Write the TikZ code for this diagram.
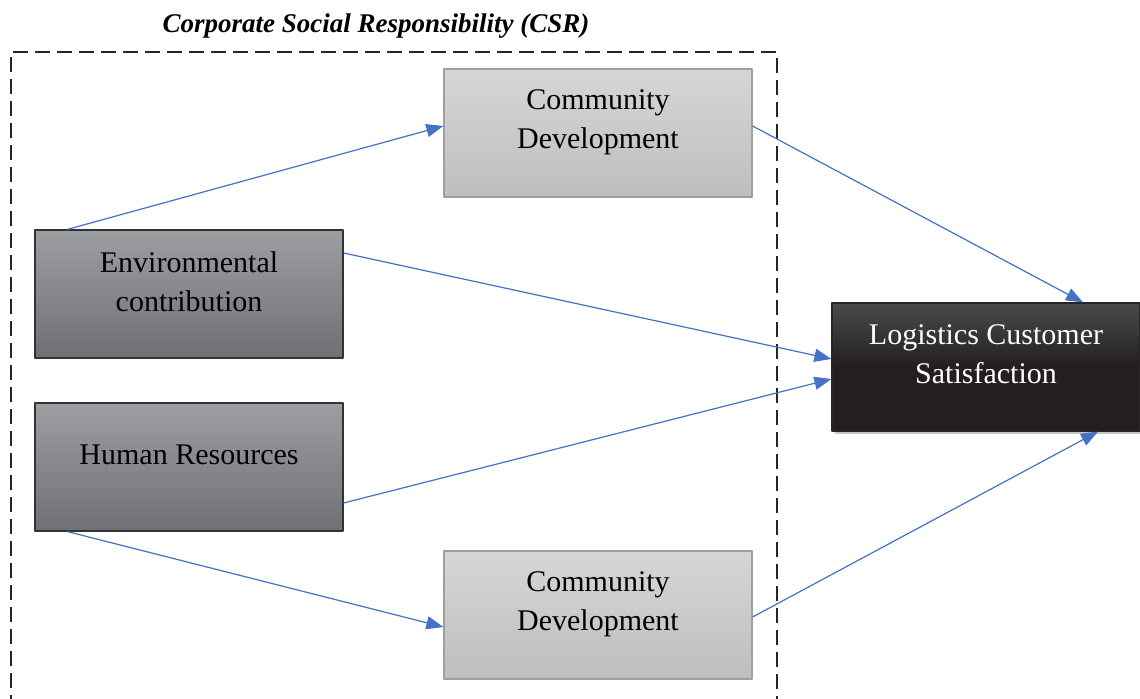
\documentclass[tikz,border=0pt]{standalone}
\usepackage{fontspec}
\setmainfont{Liberation Serif}
\usetikzlibrary{arrows.meta,shadows,positioning}
\definecolor{linkblue}{HTML}{4472C4}
\definecolor{lighttop}{HTML}{D5D6D8}
\definecolor{lightbot}{HTML}{BDBEC0}
\definecolor{darktop}{HTML}{9D9EA1}
\definecolor{darkbot}{HTML}{6F7073}
\definecolor{blacktop}{HTML}{4A4A4D}
\definecolor{blackbot}{HTML}{231F20}
\begin{document}
\begin{tikzpicture}[x=0.5pt,y=-0.5pt,line join=round,
  >={Triangle[length=8.5pt,width=6.5pt]},
  box/.style={minimum width=154pt,minimum height=64pt,inner sep=0pt,line width=0.6pt},
  light/.style={box,draw=gray!75,top color=lighttop,bottom color=lightbot},
  dark/.style={box,draw=black!80,top color=darktop,bottom color=darkbot},
  result/.style={box,draw=black!85,top color=blacktop,bottom color=blackbot,middle color=blackbot,
    drop shadow={shadow xshift=1.5pt,shadow yshift=-1.5pt,opacity=0.45}},
  txt/.style={align=center,inner sep=0pt,font=\fontsize{15}{19.5}\selectfont},
  link/.style={->,draw=linkblue,fill=linkblue,line width=0.6pt}]
  \useasboundingbox (0,0) rectangle (1140,699);
  % title and CSR frame
  \node[font=\bfseries\itshape\fontsize{13.5}{16}\selectfont] (csr) at (376,26) {Corporate Social Responsibility (CSR)};
  \draw[line width=1pt,black!85,dash pattern=on 7.5pt off 3.5pt] (11,710) |- (777,52) -- (777,710);
  % boxes
  \node[light] (cd1) at (598,133) {};
  \node[dark] (env) at (189,294) {};
  \node[dark] (hr) at (189,467) {};
  \node[light] (cd2) at (598,615) {};
  \node[result] (lcs) at (986,367) {};
  % labels
  \node[txt] (cd1-t) at ([yshift=5.5pt]cd1.center) {Community\\Development};
  \node[txt] (env-t) at ([yshift=6pt]env.center) {Environmental\\contribution};
  \node[txt] (hr-t) at ([yshift=6pt]hr.center) {Human Resources};
  \node[txt] (cd2-t) at ([yshift=5.5pt]cd2.center) {Community\\Development};
  \node[txt,text=white] (lcs-t) at ([yshift=6.5pt]lcs.center) {Logistics Customer\\Satisfaction};
  % links
  \draw[link] ([xshift=16.5pt]env.north west) -- ([yshift=3.5pt]cd1.west);
  \draw[link] ([xshift=16.5pt]hr.south west) -- ([yshift=-6pt]cd2.west);
  \draw[link] ([yshift=3.5pt]cd1.east) -- ([xshift=48.5pt]lcs.north);
  \draw[link] ([yshift=20.5pt]env.east) -- ([yshift=4pt]lcs.west);
  \draw[link] ([yshift=-18pt]hr.east) -- ([yshift=-6pt]lcs.west);
  \draw[link] ([yshift=-1pt]cd2.east) -- ([xshift=56pt]lcs.south);
\end{tikzpicture}
\end{document}
